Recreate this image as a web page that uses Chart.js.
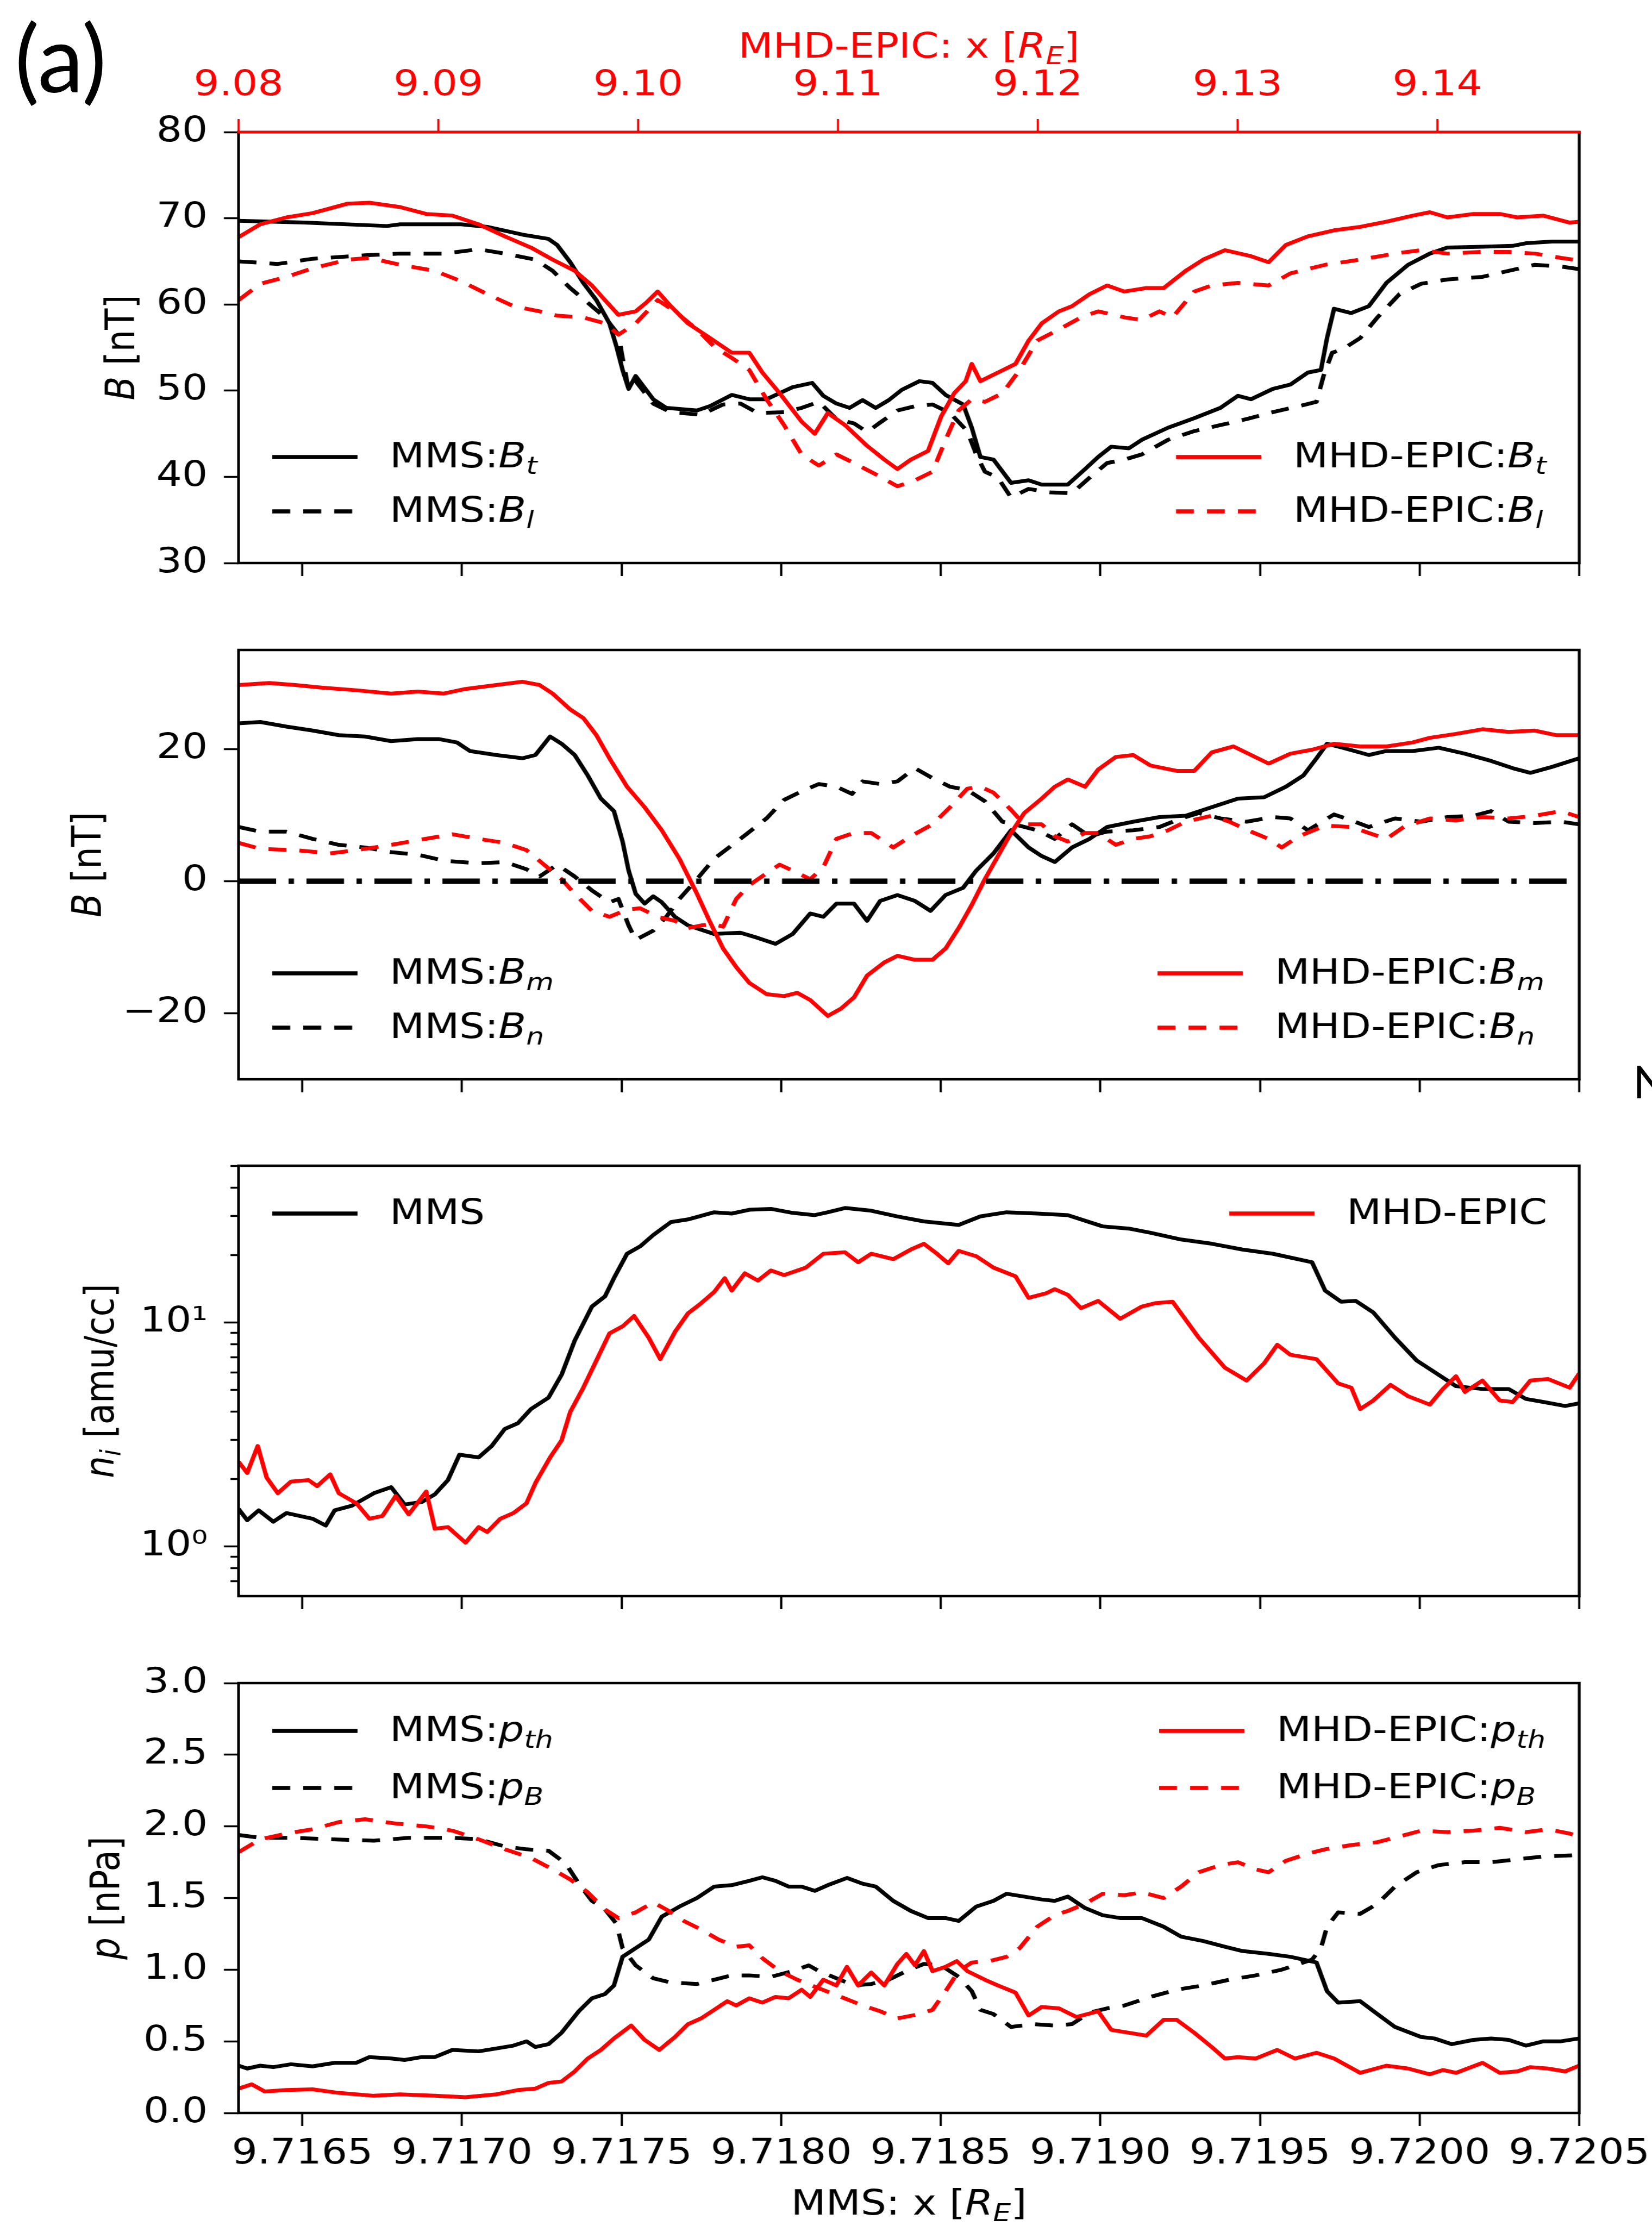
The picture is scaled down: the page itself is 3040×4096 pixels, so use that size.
<!DOCTYPE html>
<html>
<head>
<meta charset="utf-8">
<title>MMS vs MHD-EPIC crossing</title>
<script src="https://cdn.jsdelivr.net/npm/chart.js@4.4.1/dist/chart.umd.min.js"></script>
<style>
  html, body { margin: 0; padding: 0; background: #fff; }
  #page { position: relative; width: 3040px; height: 4096px; overflow: hidden; background: #fff; }
  canvas { position: absolute; left: 0; }
  .tag { position: absolute; font-family: Lato, "Open Sans", sans-serif; color: #000; line-height: 1; white-space: nowrap; }
</style>
</head>
<body>
<div id="page">
  <div class="tag" style="left:27px; top:19px; font-size:170px;">(a)</div>
  <div class="tag" style="left:3005px; top:1947px; font-size:84px;">N</div>
  <!-- the source figure is drawn slightly wider than tall; the canvases are stretched the same way -->
  <canvas id="chB1" width="2621" height="1110" style="top:0px; width:3040px; height:1110px"></canvas>
  <canvas id="chB2" width="2621" height="956" style="top:1110px; width:3040px; height:956px"></canvas>
  <canvas id="chN" width="2621" height="951" style="top:2066px; width:3040px; height:951px"></canvas>
  <canvas id="chP" width="2621" height="1079" style="top:3017px; width:3040px; height:1079px"></canvas>
</div>
<script>
// axes
const mmsRange = [9.7163, 9.7205];
const epicRange = [9.08, 9.1471];
const mmsTicks = [9.7165, 9.7170, 9.7175, 9.7180, 9.7185, 9.7190, 9.7195, 9.7200, 9.7205];
const epicTicks = [9.08, 9.09, 9.10, 9.11, 9.12, 9.13, 9.14];
const bRange1 = [30, 80];
const bTicks1 = [30, 40, 50, 60, 70, 80];
const bRange2 = [-30, 35];
const bTicks2 = [-20, 0, 20];
const nRange = [0.634, 50.2];
const nMajor = [1, 10];
const nMinor = [0.7, 0.8, 0.9, 2, 3, 4, 5, 6, 7, 8, 9, 20, 30, 40, 50];
const pRange = [0, 3];
const pTicks = [0, 0.5, 1, 1.5, 2, 2.5, 3];

// panel 1: B_t, B_l [nT]
const xMmsBt = [9.716300, 9.716505, 9.716765, 9.716806, 9.716997, 9.717079, 9.717189, 9.717271, 9.717298, 9.717339,
  9.717380, 9.717421, 9.717462, 9.717484, 9.717503, 9.717522, 9.717544, 9.717599, 9.717640, 9.717736,
  9.717777, 9.717845, 9.717900, 9.717954, 9.718036, 9.718097, 9.718132, 9.718173, 9.718214, 9.718255,
  9.718296, 9.718337, 9.718378, 9.718433, 9.718474, 9.718515, 9.718570, 9.718597, 9.718624, 9.718665,
  9.718720, 9.718775, 9.718816, 9.718898, 9.718952, 9.718993, 9.719034, 9.719089, 9.719130, 9.719212,
  9.719294, 9.719376, 9.719431, 9.719472, 9.719540, 9.719595, 9.719650, 9.719691, 9.719710, 9.719732,
  9.719786, 9.719841, 9.719896, 9.719964, 9.720032, 9.720087, 9.720197, 9.720292, 9.720333, 9.720415,
  9.720500];
const yMmsBt = [69.7, 69.5, 69.1, 69.3, 69.3, 69.0, 68.1, 67.6, 66.9, 64.9,
  62.5, 60.5, 57.8, 55.1, 52.4, 50.2, 51.7, 49.0, 48.0, 47.7,
  48.2, 49.5, 49.0, 49.0, 50.4, 50.9, 49.4, 48.5, 48.0, 48.9,
  48.0, 48.9, 50.1, 51.1, 50.9, 49.5, 48.4, 45.7, 42.3, 42.0,
  39.3, 39.6, 39.1, 39.1, 40.9, 42.3, 43.5, 43.3, 44.3, 45.7,
  46.8, 48.0, 49.4, 49.0, 50.2, 50.7, 52.1, 52.4, 56.1, 59.5,
  59.0, 59.8, 62.5, 64.6, 65.9, 66.6, 66.7, 66.8, 67.1, 67.3,
  67.3];
const xMmsBl = [9.716300, 9.716423, 9.716532, 9.716696, 9.716806, 9.716943, 9.717052, 9.717134, 9.717230, 9.717284,
  9.717339, 9.717394, 9.717448, 9.717490, 9.717503, 9.717522, 9.717544, 9.717599, 9.717654, 9.717749,
  9.717818, 9.717872, 9.717927, 9.718009, 9.718064, 9.718118, 9.718173, 9.718228, 9.718269, 9.718310,
  9.718364, 9.718419, 9.718474, 9.718529, 9.718583, 9.718611, 9.718638, 9.718679, 9.718720, 9.718775,
  9.718843, 9.718911, 9.718966, 9.719021, 9.719075, 9.719130, 9.719212, 9.719294, 9.719376, 9.719458,
  9.719540, 9.719622, 9.719677, 9.719699, 9.719726, 9.719759, 9.719814, 9.719868, 9.719937, 9.720005,
  9.720087, 9.720197, 9.720279, 9.720361, 9.720443, 9.720500];
const yMmsBl = [65.0, 64.7, 65.3, 65.7, 65.9, 65.9, 66.4, 65.9, 65.2, 63.9,
  61.9, 60.2, 58.5, 56.5, 53.8, 50.1, 51.1, 48.5, 47.5, 47.2,
  48.4, 48.5, 47.4, 47.5, 48.0, 48.7, 46.7, 46.2, 45.2, 46.3,
  47.7, 48.2, 48.4, 47.4, 45.3, 42.6, 40.6, 39.9, 37.6, 38.6,
  38.2, 38.1, 39.9, 41.6, 42.0, 42.6, 44.3, 45.3, 46.0, 46.7,
  47.5, 48.2, 48.7, 51.7, 54.4, 54.8, 56.1, 58.5, 61.2, 62.4,
  62.9, 63.2, 63.9, 64.6, 64.4, 64.1];
const xEpicBt = [9.716300, 9.716368, 9.716450, 9.716532, 9.716642, 9.716710, 9.716806, 9.716888, 9.716970, 9.717052,
  9.717134, 9.717216, 9.717284, 9.717353, 9.717407, 9.717448, 9.717490, 9.717544, 9.717577, 9.717613,
  9.717654, 9.717708, 9.717777, 9.717845, 9.717900, 9.717941, 9.717995, 9.718064, 9.718105, 9.718146,
  9.718200, 9.718269, 9.718323, 9.718364, 9.718406, 9.718460, 9.718501, 9.718542, 9.718578, 9.718597,
  9.718624, 9.718679, 9.718734, 9.718775, 9.718816, 9.718870, 9.718911, 9.718966, 9.719021, 9.719075,
  9.719144, 9.719198, 9.719267, 9.719322, 9.719390, 9.719472, 9.719527, 9.719581, 9.719650, 9.719732,
  9.719814, 9.719896, 9.719978, 9.720032, 9.720087, 9.720169, 9.720251, 9.720306, 9.720388, 9.720470,
  9.720500];
const yEpicBt = [67.8, 69.3, 70.1, 70.6, 71.7, 71.8, 71.3, 70.5, 70.3, 69.3,
  67.9, 66.6, 65.2, 63.9, 62.2, 60.5, 58.8, 59.2, 60.2, 61.5,
  59.8, 57.8, 56.1, 54.4, 54.4, 52.1, 49.7, 46.4, 45.0, 47.4,
  46.0, 43.6, 42.0, 40.9, 42.0, 43.0, 47.0, 49.7, 51.1, 53.1,
  51.1, 52.1, 53.1, 55.8, 57.8, 59.2, 59.8, 61.2, 62.2, 61.5,
  61.9, 61.9, 63.9, 65.2, 66.3, 65.6, 64.9, 66.9, 67.9, 68.6,
  69.0, 69.6, 70.3, 70.7, 70.1, 70.5, 70.5, 70.1, 70.3, 69.5,
  69.6];
const xEpicBl = [9.716300, 9.716368, 9.716450, 9.716532, 9.716642, 9.716710, 9.716806, 9.716915, 9.716997, 9.717079,
  9.717161, 9.717243, 9.717298, 9.717380, 9.717448, 9.717490, 9.717544, 9.717613, 9.717667, 9.717736,
  9.717790, 9.717845, 9.717900, 9.717954, 9.718009, 9.718064, 9.718118, 9.718173, 9.718228, 9.718296,
  9.718364, 9.718419, 9.718474, 9.718515, 9.718556, 9.718597, 9.718638, 9.718693, 9.718747, 9.718802,
  9.718870, 9.718939, 9.718993, 9.719075, 9.719130, 9.719185, 9.719226, 9.719294, 9.719349, 9.719431,
  9.719527, 9.719595, 9.719704, 9.719814, 9.719923, 9.720005, 9.720087, 9.720197, 9.720279, 9.720361,
  9.720443, 9.720500];
const yEpicBl = [60.5, 62.4, 63.2, 64.2, 65.2, 65.4, 64.6, 63.9, 62.7, 61.2,
  59.8, 59.2, 58.7, 58.5, 57.8, 56.5, 57.8, 60.5, 59.2, 57.1,
  55.1, 53.8, 52.4, 49.0, 46.0, 42.6, 41.3, 42.6, 41.6, 40.3,
  38.9, 39.6, 40.6, 44.3, 47.7, 49.0, 48.7, 49.7, 52.4, 55.8,
  57.1, 58.5, 59.2, 58.5, 58.2, 59.2, 58.5, 61.5, 62.2, 62.5,
  62.2, 63.6, 64.6, 65.2, 65.9, 66.3, 65.9, 66.1, 66.1, 65.9,
  65.4, 65.1];

// panel 2: B_m, B_n [nT]
const xMmsBm = [9.716300, 9.716368, 9.716450, 9.716532, 9.716614, 9.716696, 9.716778, 9.716861, 9.716929, 9.716984,
  9.717025, 9.717107, 9.717189, 9.717230, 9.717276, 9.717312, 9.717353, 9.717394, 9.717435, 9.717476,
  9.717503, 9.717522, 9.717544, 9.717572, 9.717599, 9.717626, 9.717667, 9.717708, 9.717790, 9.717872,
  9.717927, 9.717982, 9.718036, 9.718091, 9.718132, 9.718173, 9.718228, 9.718269, 9.718310, 9.718364,
  9.718419, 9.718468, 9.718515, 9.718570, 9.718611, 9.718665, 9.718720, 9.718775, 9.718816, 9.718857,
  9.718911, 9.718966, 9.719021, 9.719103, 9.719185, 9.719267, 9.719349, 9.719431, 9.719513, 9.719581,
  9.719636, 9.719677, 9.719710, 9.719759, 9.719841, 9.719896, 9.719978, 9.720060, 9.720142, 9.720224,
  9.720292, 9.720347, 9.720415, 9.720500];
const yMmsBm = [23.9, 24.1, 23.4, 22.8, 22.1, 21.9, 21.2, 21.5, 21.5, 21.0,
  19.7, 19.1, 18.6, 19.1, 21.9, 20.8, 19.1, 16.0, 12.5, 10.6,
  6.0, 1.6, -1.9, -3.4, -2.3, -3.2, -5.4, -6.7, -8.0, -7.8,
  -8.6, -9.5, -8.0, -4.9, -5.4, -3.4, -3.4, -6.0, -3.0, -2.1,
  -3.0, -4.5, -2.1, -1.0, 1.6, 4.2, 7.7, 5.1, 3.8, 2.9,
  5.1, 6.4, 8.2, 9.0, 9.7, 9.9, 11.2, 12.5, 12.7, 14.3,
  16.0, 18.6, 20.8, 20.2, 19.1, 19.7, 19.7, 20.2, 19.3, 18.2,
  17.1, 16.4, 17.3, 18.6];
const xMmsBn = [9.716300, 9.716368, 9.716450, 9.716532, 9.716614, 9.716696, 9.716778, 9.716861, 9.716943, 9.717052,
  9.717134, 9.717202, 9.717243, 9.717298, 9.717353, 9.717407, 9.717462, 9.717490, 9.717522, 9.717544,
  9.717599, 9.717640, 9.717681, 9.717736, 9.717790, 9.717872, 9.717954, 9.718009, 9.718064, 9.718118,
  9.718173, 9.718222, 9.718255, 9.718310, 9.718364, 9.718419, 9.718474, 9.718529, 9.718583, 9.718638,
  9.718693, 9.718747, 9.718802, 9.718857, 9.718911, 9.718966, 9.719021, 9.719103, 9.719185, 9.719253,
  9.719308, 9.719376, 9.719458, 9.719540, 9.719595, 9.719650, 9.719732, 9.719786, 9.719841, 9.719923,
  9.720005, 9.720087, 9.720169, 9.720224, 9.720279, 9.720361, 9.720443, 9.720500];
const yMmsBn = [8.2, 7.5, 7.5, 6.4, 5.5, 5.1, 4.4, 4.0, 3.1, 2.7,
  2.9, 1.8, 0.7, 2.5, 0.7, -1.4, -3.2, -2.7, -6.7, -8.9,
  -7.5, -5.4, -2.7, 0.3, 3.4, 6.4, 9.5, 12.3, 13.6, 14.7,
  14.3, 13.2, 15.1, 14.7, 15.1, 17.1, 15.6, 14.3, 13.8, 12.1,
  9.0, 8.4, 7.7, 6.4, 8.6, 6.8, 7.5, 7.7, 8.2, 9.5,
  10.3, 9.5, 9.0, 9.7, 9.5, 7.7, 10.1, 9.2, 8.2, 9.5,
  9.0, 9.7, 9.9, 10.6, 9.0, 8.8, 9.0, 8.6];
const xEpicBm = [9.716300, 9.716396, 9.716478, 9.716560, 9.716669, 9.716778, 9.716861, 9.716943, 9.717011, 9.717107,
  9.717189, 9.717243, 9.717284, 9.717339, 9.717380, 9.717421, 9.717462, 9.717517, 9.717572, 9.717626,
  9.717681, 9.717736, 9.717777, 9.717818, 9.717859, 9.717900, 9.717954, 9.718009, 9.718050, 9.718091,
  9.718146, 9.718187, 9.718228, 9.718269, 9.718323, 9.718364, 9.718419, 9.718474, 9.718515, 9.718556,
  9.718597, 9.718638, 9.718679, 9.718720, 9.718761, 9.718816, 9.718857, 9.718898, 9.718952, 9.718993,
  9.719048, 9.719103, 9.719157, 9.719239, 9.719294, 9.719349, 9.719417, 9.719472, 9.719527, 9.719595,
  9.719663, 9.719732, 9.719814, 9.719896, 9.719978, 9.720032, 9.720114, 9.720197, 9.720279, 9.720361,
  9.720429, 9.720500];
const yEpicBm = [29.7, 30.0, 29.7, 29.3, 28.9, 28.4, 28.7, 28.4, 29.1, 29.7,
  30.2, 29.7, 28.4, 26.0, 24.7, 22.1, 18.6, 14.3, 11.2, 7.7,
  3.4, -1.9, -6.2, -10.2, -13.0, -15.4, -17.1, -17.4, -16.9, -18.0,
  -20.4, -19.3, -17.6, -14.3, -12.3, -11.3, -11.9, -11.9, -10.2, -7.1,
  -3.6, 0.3, 3.8, 7.3, 10.3, 12.5, 14.3, 15.4, 14.3, 16.9,
  18.8, 19.1, 17.5, 16.7, 16.7, 19.5, 20.4, 19.1, 17.8, 19.3,
  19.9, 20.8, 20.4, 20.4, 21.0, 21.7, 22.3, 23.0, 22.6, 22.8,
  22.1, 22.1];
const xEpicBn = [9.716300, 9.716368, 9.716478, 9.716587, 9.716669, 9.716778, 9.716861, 9.716970, 9.717052, 9.717134,
  9.717202, 9.717257, 9.717312, 9.717353, 9.717407, 9.717462, 9.717517, 9.717558, 9.717613, 9.717667,
  9.717708, 9.717749, 9.717790, 9.717818, 9.717859, 9.717900, 9.717954, 9.717995, 9.718036, 9.718091,
  9.718132, 9.718173, 9.718228, 9.718282, 9.718351, 9.718406, 9.718474, 9.718529, 9.718583, 9.718624,
  9.718665, 9.718720, 9.718761, 9.718816, 9.718857, 9.718898, 9.718952, 9.718993, 9.719048, 9.719103,
  9.719157, 9.719212, 9.719267, 9.719349, 9.719404, 9.719472, 9.719527, 9.719568, 9.719622, 9.719704,
  9.719786, 9.719841, 9.719896, 9.719950, 9.720032, 9.720114, 9.720197, 9.720279, 9.720361, 9.720443,
  9.720500];
const yEpicBn = [5.8, 4.9, 4.7, 4.2, 4.7, 5.5, 6.2, 7.1, 6.4, 5.8,
  4.7, 2.5, 0.3, -1.9, -4.5, -5.4, -4.3, -4.1, -5.4, -6.0,
  -7.1, -6.7, -6.5, -6.9, -2.7, -0.6, 1.2, 2.5, 1.6, 0.3,
  2.1, 6.4, 7.3, 7.3, 5.1, 6.8, 8.6, 11.2, 14.0, 14.3,
  13.4, 10.8, 8.6, 8.6, 6.8, 6.0, 7.3, 7.3, 5.5, 6.4,
  6.8, 7.7, 9.0, 9.9, 9.0, 7.5, 6.4, 5.1, 6.8, 8.4,
  8.2, 7.3, 6.4, 8.2, 9.5, 9.2, 9.7, 9.5, 9.9, 10.6,
  9.7];
const zeroLevel = [0, 0];

// panel 3: n_i [amu/cc]
const xMmsN = [9.716300, 9.716327, 9.716363, 9.716409, 9.716450, 9.716532, 9.716573, 9.716601, 9.716655, 9.716724,
  9.716778, 9.716820, 9.716874, 9.716915, 9.716956, 9.716992, 9.717052, 9.717093, 9.717134, 9.717175,
  9.717216, 9.717271, 9.717312, 9.717353, 9.717407, 9.717448, 9.717476, 9.717517, 9.717558, 9.717599,
  9.717654, 9.717708, 9.717790, 9.717845, 9.717900, 9.717968, 9.718036, 9.718105, 9.718146, 9.718200,
  9.718282, 9.718364, 9.718447, 9.718556, 9.718624, 9.718706, 9.718802, 9.718898, 9.719007, 9.719089,
  9.719157, 9.719253, 9.719349, 9.719445, 9.719540, 9.719663, 9.719704, 9.719754, 9.719800, 9.719855,
  9.719923, 9.719991, 9.720046, 9.720114, 9.720197, 9.720279, 9.720333, 9.720388, 9.720456, 9.720500];
const yMmsN = [1.47, 1.31, 1.45, 1.29, 1.41, 1.33, 1.24, 1.45, 1.52, 1.73,
  1.84, 1.54, 1.58, 1.71, 1.98, 2.57, 2.50, 2.81, 3.35, 3.55,
  4.11, 4.62, 5.85, 8.31, 11.8, 13.1, 15.8, 20.3, 21.9, 24.6,
  28.1, 28.9, 31.1, 30.7, 31.9, 32.2, 30.9, 30.2, 31.1, 32.5,
  31.6, 29.8, 28.3, 27.3, 29.8, 31.1, 30.7, 30.2, 26.9, 26.3,
  25.2, 23.5, 22.5, 21.2, 20.3, 18.6, 13.9, 12.4, 12.5, 11.1,
  8.56, 6.77, 6.02, 5.20, 5.05, 5.05, 4.56, 4.42, 4.24, 4.36];
const xEpicN = [9.716300, 9.716327, 9.716360, 9.716388, 9.716423, 9.716464, 9.716519, 9.716546, 9.716587, 9.716614,
  9.716669, 9.716710, 9.716751, 9.716792, 9.716833, 9.716888, 9.716915, 9.716956, 9.717011, 9.717052,
  9.717079, 9.717120, 9.717161, 9.717202, 9.717230, 9.717276, 9.717312, 9.717339, 9.717380, 9.717421,
  9.717462, 9.717503, 9.717539, 9.717585, 9.717621, 9.717667, 9.717708, 9.717749, 9.717790, 9.717823,
  9.717845, 9.717886, 9.717927, 9.717968, 9.718009, 9.718077, 9.718132, 9.718200, 9.718241, 9.718282,
  9.718351, 9.718406, 9.718447, 9.718488, 9.718523, 9.718556, 9.718611, 9.718665, 9.718734, 9.718775,
  9.718829, 9.718857, 9.718898, 9.718939, 9.718993, 9.719062, 9.719130, 9.719171, 9.719226, 9.719308,
  9.719390, 9.719458, 9.719513, 9.719554, 9.719595, 9.719677, 9.719745, 9.719786, 9.719814, 9.719855,
  9.719909, 9.719964, 9.720032, 9.720073, 9.720114, 9.720142, 9.720197, 9.720251, 9.720292, 9.720347,
  9.720402, 9.720470, 9.720500];
const yEpicN = [2.39, 2.13, 2.81, 2.03, 1.73, 1.95, 1.98, 1.86, 2.10, 1.73,
  1.56, 1.33, 1.37, 1.68, 1.39, 1.76, 1.20, 1.22, 1.04, 1.22,
  1.16, 1.33, 1.41, 1.56, 1.92, 2.50, 2.98, 3.99, 5.12, 6.77,
  8.95, 9.62, 10.7, 8.56, 6.87, 9.08, 11.0, 12.2, 13.7, 15.8,
  13.9, 16.6, 15.4, 17.1, 16.3, 17.6, 20.3, 20.6, 18.6, 20.3,
  19.2, 21.2, 22.5, 20.3, 18.4, 20.9, 19.8, 17.6, 16.1, 12.9,
  13.5, 14.1, 13.3, 11.6, 12.5, 10.4, 11.8, 12.2, 12.4, 8.56,
  6.29, 5.51, 6.58, 7.96, 7.18, 6.87, 5.35, 5.12, 4.11, 4.49,
  5.27, 4.69, 4.30, 5.05, 5.76, 4.90, 5.51, 4.49, 4.42, 5.51,
  5.60, 5.12, 5.93];

// panel 4: p_th, p_B [nPa]
const xMmsPth = [9.716300, 9.716327, 9.716368, 9.716409, 9.716464, 9.716532, 9.716601, 9.716669, 9.716710, 9.716778,
  9.716820, 9.716874, 9.716915, 9.716970, 9.717052, 9.717107, 9.717161, 9.717202, 9.717230, 9.717271,
  9.717312, 9.717366, 9.717407, 9.717448, 9.717476, 9.717503, 9.717544, 9.717585, 9.717626, 9.717681,
  9.717736, 9.717790, 9.717845, 9.717900, 9.717941, 9.717982, 9.718023, 9.718064, 9.718105, 9.718146,
  9.718206, 9.718255, 9.718296, 9.718351, 9.718406, 9.718460, 9.718515, 9.718556, 9.718611, 9.718665,
  9.718706, 9.718761, 9.718816, 9.718857, 9.718898, 9.718952, 9.719007, 9.719062, 9.719130, 9.719198,
  9.719253, 9.719322, 9.719390, 9.719445, 9.719527, 9.719595, 9.719677, 9.719710, 9.719745, 9.719814,
  9.719868, 9.719923, 9.720005, 9.720046, 9.720101, 9.720169, 9.720224, 9.720279, 9.720333, 9.720388,
  9.720443, 9.720500];
const yMmsPth = [0.33, 0.31, 0.33, 0.32, 0.34, 0.325, 0.35, 0.35, 0.39, 0.38,
  0.37, 0.39, 0.39, 0.44, 0.43, 0.45, 0.47, 0.50, 0.46, 0.48,
  0.56, 0.71, 0.80, 0.83, 0.89, 1.09, 1.15, 1.21, 1.37, 1.44,
  1.50, 1.58, 1.59, 1.62, 1.645, 1.62, 1.58, 1.58, 1.55, 1.59,
  1.64, 1.60, 1.58, 1.48, 1.41, 1.36, 1.36, 1.34, 1.44, 1.48,
  1.53, 1.51, 1.49, 1.48, 1.51, 1.43, 1.38, 1.36, 1.36, 1.30,
  1.23, 1.20, 1.16, 1.13, 1.11, 1.09, 1.05, 0.85, 0.77, 0.78,
  0.69, 0.60, 0.53, 0.52, 0.48, 0.51, 0.52, 0.51, 0.47, 0.50,
  0.50, 0.52];
const xMmsPB = [9.716300, 9.716368, 9.716478, 9.716587, 9.716724, 9.716833, 9.716970, 9.717052, 9.717134, 9.717202,
  9.717271, 9.717325, 9.717366, 9.717407, 9.717448, 9.717484, 9.717503, 9.717544, 9.717599, 9.717654,
  9.717736, 9.717790, 9.717845, 9.717900, 9.717968, 9.718036, 9.718086, 9.718118, 9.718173, 9.718228,
  9.718282, 9.718337, 9.718392, 9.718447, 9.718501, 9.718556, 9.718597, 9.718624, 9.718665, 9.718720,
  9.718788, 9.718857, 9.718911, 9.718966, 9.719021, 9.719075, 9.719157, 9.719239, 9.719322, 9.719404,
  9.719486, 9.719568, 9.719663, 9.719691, 9.719710, 9.719745, 9.719814, 9.719868, 9.719923, 9.719991,
  9.720060, 9.720142, 9.720224, 9.720306, 9.720388, 9.720500];
const yMmsPB = [1.94, 1.92, 1.92, 1.91, 1.90, 1.92, 1.92, 1.91, 1.86, 1.84,
  1.83, 1.74, 1.60, 1.48, 1.42, 1.32, 1.15, 1.03, 0.94, 0.91,
  0.90, 0.93, 0.96, 0.96, 0.95, 0.99, 1.03, 0.99, 0.94, 0.89,
  0.90, 0.93, 0.99, 1.04, 1.03, 0.95, 0.85, 0.72, 0.69, 0.60,
  0.62, 0.61, 0.62, 0.70, 0.73, 0.75, 0.81, 0.86, 0.89, 0.93,
  0.96, 1.00, 1.07, 1.15, 1.30, 1.40, 1.39, 1.46, 1.58, 1.68,
  1.73, 1.75, 1.75, 1.77, 1.79, 1.80];
const xEpicPth = [9.716300, 9.716341, 9.716382, 9.716450, 9.716532, 9.716614, 9.716724, 9.716806, 9.716915, 9.717011,
  9.717107, 9.717175, 9.717230, 9.717271, 9.717312, 9.717353, 9.717394, 9.717435, 9.717476, 9.717530,
  9.717572, 9.717618, 9.717667, 9.717708, 9.717749, 9.717790, 9.717831, 9.717859, 9.717900, 9.717941,
  9.717982, 9.718023, 9.718064, 9.718091, 9.718132, 9.718173, 9.718206, 9.718241, 9.718282, 9.718323,
  9.718364, 9.718392, 9.718419, 9.718447, 9.718474, 9.718515, 9.718550, 9.718583, 9.718638, 9.718679,
  9.718734, 9.718775, 9.718816, 9.718870, 9.718925, 9.718993, 9.719034, 9.719089, 9.719144, 9.719198,
  9.719239, 9.719294, 9.719349, 9.719390, 9.719431, 9.719486, 9.719554, 9.719609, 9.719677, 9.719732,
  9.719814, 9.719896, 9.719964, 9.720032, 9.720073, 9.720114, 9.720197, 9.720251, 9.720306, 9.720347,
  9.720402, 9.720456, 9.720500];
const yEpicPth = [0.17, 0.20, 0.15, 0.16, 0.165, 0.14, 0.12, 0.13, 0.12, 0.11,
  0.13, 0.16, 0.17, 0.21, 0.22, 0.29, 0.38, 0.44, 0.52, 0.61,
  0.51, 0.44, 0.53, 0.62, 0.66, 0.72, 0.78, 0.75, 0.80, 0.77,
  0.81, 0.80, 0.86, 0.81, 0.93, 0.89, 1.02, 0.89, 0.98, 0.89,
  1.04, 1.11, 1.03, 1.13, 0.99, 1.02, 1.06, 0.99, 0.93, 0.89,
  0.84, 0.68, 0.74, 0.73, 0.67, 0.71, 0.58, 0.56, 0.54, 0.65,
  0.65, 0.56, 0.46, 0.38, 0.39, 0.38, 0.44, 0.38, 0.42, 0.38,
  0.28, 0.33, 0.31, 0.27, 0.30, 0.28, 0.35, 0.28, 0.29, 0.32,
  0.31, 0.29, 0.33];
const xEpicPB = [9.716300, 9.716368, 9.716450, 9.716532, 9.716614, 9.716696, 9.716792, 9.716888, 9.716970, 9.717052,
  9.717134, 9.717216, 9.717284, 9.717339, 9.717394, 9.717448, 9.717490, 9.717544, 9.717599, 9.717640,
  9.717695, 9.717749, 9.717804, 9.717859, 9.717900, 9.717941, 9.717995, 9.718050, 9.718118, 9.718187,
  9.718255, 9.718310, 9.718364, 9.718433, 9.718474, 9.718515, 9.718556, 9.718597, 9.718652, 9.718706,
  9.718747, 9.718802, 9.718857, 9.718898, 9.718952, 9.719007, 9.719075, 9.719130, 9.719198, 9.719253,
  9.719308, 9.719376, 9.719431, 9.719486, 9.719527, 9.719581, 9.719650, 9.719704, 9.719786, 9.719868,
  9.719937, 9.720005, 9.720087, 9.720169, 9.720251, 9.720333, 9.720402, 9.720470, 9.720500];
const yEpicPB = [1.82, 1.91, 1.95, 1.98, 2.03, 2.05, 2.02, 2.00, 1.97, 1.91,
  1.84, 1.78, 1.70, 1.63, 1.54, 1.42, 1.36, 1.40, 1.47, 1.42,
  1.34, 1.28, 1.21, 1.16, 1.17, 1.08, 0.99, 0.93, 0.87, 0.81,
  0.75, 0.71, 0.66, 0.69, 0.72, 0.85, 0.99, 1.05, 1.06, 1.09,
  1.15, 1.30, 1.38, 1.41, 1.46, 1.53, 1.52, 1.54, 1.50, 1.58,
  1.68, 1.73, 1.75, 1.70, 1.68, 1.76, 1.81, 1.84, 1.87, 1.89,
  1.93, 1.97, 1.96, 1.97, 1.99, 1.96, 1.98, 1.95, 1.93];

// geometry: page px, canvases are 2621 wide and shown 3040 wide
const PAGE_W = 3040, CANVAS_W = 2621;
const STRETCH = PAGE_W / CANVAS_W;
const sx = v => v / STRETCH;
const AREA_L = sx(439), AREA_R = sx(2906);

// styles
const RED = '#ff0000', BLACK = '#000000';
const LW = 7, SPINE = 4.5, TICK_W = 3.5;
const DASH = [33, 24].map(sx), DASHDOT = [69, 23, 10, 23].map(sx);
const FS = 64, CAP = 23;
const tickFont = { family: 'DejaVu Sans', size: FS };
const SAMPLE = 157, TEXT_GAP = 216;

function pts(xs, ys) {
  const n = Math.min(xs.length, ys.length);
  const out = [];
  for (let i = 0; i < n; i++) out.push({ x: xs[i], y: ys[i] });
  return out;
}

function series(label, xs, ys, color, dash, order, width) {
  return {
    label: label, data: pts(xs, ys), borderColor: color, backgroundColor: color,
    borderWidth: width || LW, borderDash: dash || [], pointRadius: 0, fill: false,
    tension: 0, order: order, borderJoinStyle: 'round'
  };
}

// fixed box sizes so the plot areas land where the reference has them
function fixSize(size) {
  return function (s) {
    if (s.isHorizontal()) s.height = size; else s.width = size;
    s.paddingLeft = 0; s.paddingRight = 0; s.paddingTop = 0; s.paddingBottom = 0;
  };
}
function setTicks(values) {
  return function (s) { s.ticks = values.map(v => ({ value: v })); };
}

function xBottom(showLabels, h) {
  return {
    type: 'linear', position: 'bottom', min: mmsRange[0], max: mmsRange[1],
    afterBuildTicks: setTicks(mmsTicks), afterFit: fixSize(h),
    border: { display: false },
    grid: { display: true, drawOnChartArea: false, drawTicks: true, tickLength: 24, tickWidth: TICK_W, tickColor: BLACK },
    ticks: { display: showLabels, autoSkip: false, maxRotation: 0, minRotation: 0, padding: 14,
      color: BLACK, font: tickFont, callback: v => Number(v).toFixed(4) }
  };
}
function yLeft(type, range, ticks, fmt, width, tickLen, showLabels, weight) {
  return {
    type: type, position: 'left', min: range[0], max: range[1], weight: weight || 0,
    afterBuildTicks: setTicks(ticks), afterFit: fixSize(width),
    border: { display: false },
    grid: { display: true, drawOnChartArea: false, drawTicks: true, tickLength: sx(tickLen), tickWidth: TICK_W, tickColor: BLACK },
    ticks: { display: showLabels, autoSkip: false, padding: sx(30), color: BLACK, font: tickFont, callback: fmt }
  };
}

// mathtext-like labels: $B_t$, $p_{th}$
function parseLabel(s) {
  const out = [];
  s.split('$').forEach((b, i) => {
    if (!b) return;
    if (i % 2 === 0) { out.push({ t: b }); return; }
    let k = 0;
    while (k < b.length) {
      if (b[k] === '_') {
        k++;
        let g;
        if (b[k] === '{') { const e = b.indexOf('}', k); g = b.slice(k + 1, e); k = e + 1; }
        else { g = b[k]; k++; }
        out.push({ t: g, it: true, sub: true });
      } else { out.push({ t: b[k], it: true }); k++; }
    }
  });
  return out;
}
function fontFor(p, size) {
  const s = p.sub ? Math.round(size * 0.7) : size;
  return (p.it ? 'italic ' : '') + s + 'px "DejaVu Sans"';
}
function richWidth(ctx, parts, size) {
  let w = 0;
  parts.forEach(p => { ctx.font = fontFor(p, size); w += ctx.measureText(p.t).width; });
  return w;
}
function drawRich(ctx, parts, x, baseY, size, color) {
  ctx.fillStyle = color;
  ctx.textBaseline = 'alphabetic';
  ctx.textAlign = 'left';
  let cx = x;
  parts.forEach(p => {
    ctx.font = fontFor(p, size);
    ctx.fillText(p.t, cx, baseY + (p.sub ? size * 0.18 : 0));
    cx += ctx.measureText(p.t).width;
  });
}

// frame, axis titles and legends for each panel (x positions in page px)
const decorations = {
  chB1: {
    topColor: RED, yTitle: '$B$ [nT]', yTitleX: 220,
    xTitles: [{ text: 'MHD-EPIC: x [$R_E$]', edge: 'top', offset: 160, color: RED }],
    legends: [
      { x: 62, edge: 'bottom', offsets: [195, 95], rows: [0, 1] },
      { x: 1725, edge: 'bottom', offsets: [195, 95], rows: [2, 3] }
    ]
  },
  chB2: {
    yTitle: '$B$ [nT]', yTitleX: 159, xTitles: [],
    legends: [
      { x: 62, edge: 'bottom', offsets: [195, 95], rows: [0, 1] },
      { x: 1691, edge: 'bottom', offsets: [195, 95], rows: [2, 3] }
    ]
  },
  chN: {
    yTitle: '$n_i$ [amu/cc]', yTitleX: 182, xTitles: [],
    legends: [
      { x: 62, edge: 'top', offsets: [88], rows: [0] },
      { x: 1823, edge: 'top', offsets: [88], rows: [1] }
    ]
  },
  chP: {
    yTitle: '$p$ [nPa]', yTitleX: 192,
    xTitles: [{ text: 'MMS: x [$R_E$]', edge: 'bottom', offset: 164, color: BLACK }],
    legends: [
      { x: 62, edge: 'top', offsets: [88, 193], rows: [0, 1] },
      { x: 1694, edge: 'top', offsets: [88, 193], rows: [2, 3] }
    ]
  }
};

const decor = {
  id: 'decor',
  afterDraw(chart) {
    const d = decorations[chart.canvas.id];
    if (!d) return;
    const ctx = chart.ctx, a = chart.chartArea;
    ctx.save();
    ctx.setLineDash([]);
    ctx.lineWidth = SPINE;
    ctx.strokeStyle = BLACK;
    ctx.strokeRect(a.left, a.top, a.right - a.left, a.bottom - a.top);
    if (d.topColor) {
      ctx.strokeStyle = d.topColor;
      ctx.beginPath();
      ctx.moveTo(a.left - SPINE / 2, a.top);
      ctx.lineTo(a.right + SPINE / 2, a.top);
      ctx.stroke();
    }
    // y title
    const yParts = parseLabel(d.yTitle);
    const yw = richWidth(ctx, yParts, FS);
    ctx.save();
    ctx.translate(sx(d.yTitleX), (a.top + a.bottom) / 2);
    ctx.rotate(-Math.PI / 2);
    drawRich(ctx, yParts, -yw / 2, CAP, FS, BLACK);
    ctx.restore();
    // x titles
    d.xTitles.forEach(t => {
      const parts = parseLabel(t.text);
      const w = richWidth(ctx, parts, FS);
      const cy = t.edge === 'top' ? a.top - t.offset : a.bottom + t.offset;
      drawRich(ctx, parts, (a.left + a.right) / 2 - w / 2, cy + CAP, FS, t.color);
    });
    // legends
    d.legends.forEach(g => {
      g.rows.forEach((k, r) => {
        const ds = chart.data.datasets[k];
        const y = g.edge === 'top' ? a.top + g.offsets[r] : a.bottom - g.offsets[r];
        const x0 = a.left + sx(g.x);
        ctx.strokeStyle = ds.borderColor;
        ctx.lineWidth = 7.5;
        ctx.lineCap = 'butt';
        ctx.setLineDash(ds.borderDash || []);
        ctx.beginPath();
        ctx.moveTo(x0, y);
        ctx.lineTo(x0 + sx(SAMPLE), y);
        ctx.stroke();
        ctx.setLineDash([]);
        drawRich(ctx, parseLabel(ds.label), x0 + sx(TEXT_GAP), y + 19, FS, BLACK);
      });
    });
    ctx.restore();
  }
};

function makeChart(id, datasets, scales, padTop, padBottom) {
  return new Chart(document.getElementById(id), {
    type: 'line',
    data: { datasets: datasets },
    options: {
      responsive: false, animation: false, devicePixelRatio: 1,
      layout: { padding: { left: 0, right: CANVAS_W - AREA_R, top: padTop, bottom: padBottom } },
      plugins: { legend: { display: false }, tooltip: { enabled: false } },
      elements: { point: { radius: 0 } },
      scales: scales
    },
    plugins: [decor]
  });
}

const intLabel = v => String(v);
const minusLabel = v => (v < 0 ? '\u2212' + Math.abs(v) : String(v));

// panel 1
makeChart('chB1', [
  series('MMS:$B_t$', xMmsBt, yMmsBt, BLACK, null, 3),
  series('MMS:$B_l$', xMmsBl, yMmsBl, BLACK, DASH, 3),
  series('MHD-EPIC:$B_t$', xEpicBt, yEpicBt, RED, null, 2),
  series('MHD-EPIC:$B_l$', xEpicBl, yEpicBl, RED, DASH, 2)
], {
  x: xBottom(false, 30),
  x2: {
    type: 'linear', position: 'top', min: epicRange[0], max: epicRange[1],
    afterBuildTicks: setTicks(epicTicks), afterFit: fixSize(243),
    border: { display: false },
    grid: { display: true, drawOnChartArea: false, drawTicks: true, tickLength: 24, tickWidth: TICK_W, tickColor: RED },
    ticks: { autoSkip: false, maxRotation: 0, minRotation: 0, padding: 22, color: RED, font: tickFont,
      callback: v => Number(v).toFixed(2) }
  },
  y: yLeft('linear', bRange1, bTicks1, intLabel, AREA_L, 27, true)
}, 0, 44);

// panel 2
makeChart('chB2', [
  series('MMS:$B_m$', xMmsBm, yMmsBm, BLACK, null, 3),
  series('MMS:$B_n$', xMmsBn, yMmsBn, BLACK, DASH, 3),
  series('MHD-EPIC:$B_m$', xEpicBm, yEpicBm, RED, null, 2),
  series('MHD-EPIC:$B_n$', xEpicBn, yEpicBn, RED, DASH, 2),
  series('zero', mmsRange, zeroLevel, BLACK, DASHDOT, 1, 10)
], {
  x: xBottom(false, 30),
  y: yLeft('linear', bRange2, bTicks2, minusLabel, AREA_L, 27, true)
}, 86, 50);

// panel 3: log axis, labelled decades on the outer box, shorter minor ticks on a zero-width box
makeChart('chN', [
  series('MMS', xMmsN, yMmsN, BLACK, null, 3),
  series('MHD-EPIC', xEpicN, yEpicN, RED, null, 2)
], {
  x: xBottom(false, 30),
  y: yLeft('logarithmic', nRange, nMajor, v => (v === 1 ? '10\u2070' : v === 10 ? '10\u00b9' : ''), AREA_L, 27, true, 1),
  yMinor: yLeft('logarithmic', nRange, nMinor, () => '', 0, 15, false, 0)
}, 79, 50);

// panel 4
makeChart('chP', [
  series('MMS:$p_{th}$', xMmsPth, yMmsPth, BLACK, null, 3),
  series('MMS:$p_B$', xMmsPB, yMmsPB, BLACK, DASH, 3),
  series('MHD-EPIC:$p_{th}$', xEpicPth, yEpicPth, RED, null, 2),
  series('MHD-EPIC:$p_B$', xEpicPB, yEpicPB, RED, DASH, 2)
], {
  x: xBottom(true, 208),
  y: yLeft('linear', pRange, pTicks, v => Number(v).toFixed(1), AREA_L, 27, true)
}, 80, 0);
</script>
</body>
</html>
